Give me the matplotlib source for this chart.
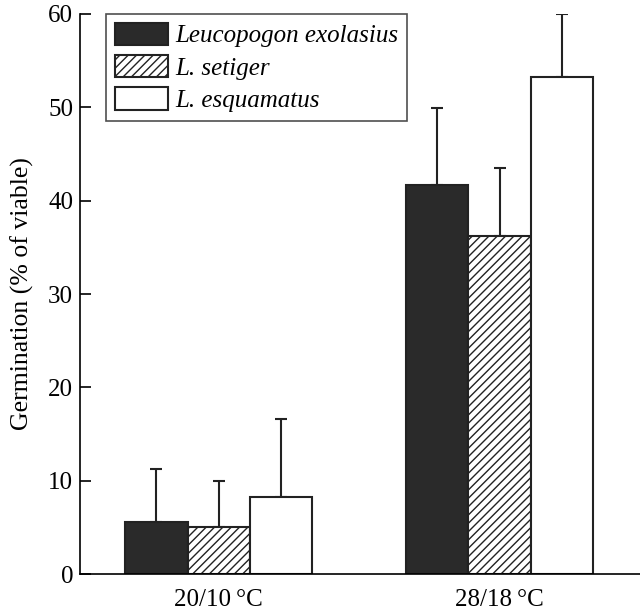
import matplotlib.pyplot as plt
import numpy as np

plt.rcParams['font.family'] = ['Liberation Serif', 'DejaVu Serif']
plt.rcParams['hatch.linewidth'] = 1.0

groups = ['20/10\u2009\u00b0C', '28/18\u2009\u00b0C']
species = ['Leucopogon exolasius', 'L. setiger', 'L. esquamatus']
means = [
    [5.6, 41.7],
    [5.0, 36.2],
    [8.3, 53.3],
]
errors = [
    [5.6, 8.2],
    [5.0, 7.3],
    [8.3, 6.7],
]

colors = ['#2a2a2a', 'white', 'white']
hatches = [None, '////', None]

fig = plt.figure(figsize=(6.4, 6.14), dpi=100)
ax = fig.add_axes([0.125, 0.0651, 0.875, 0.9121])

x = np.arange(len(groups))
w = 0.222
for i in range(3):
    ax.bar(x + (i - 1) * w, means[i], w, color=colors[i], edgecolor='#222222',
           linewidth=1.5, hatch=hatches[i], label=species[i], zorder=2)
    ax.errorbar(x + (i - 1) * w, means[i], yerr=[np.zeros(2), errors[i]],
                fmt='none', ecolor='#222222', elinewidth=1.5, capsize=4,
                capthick=1.5, zorder=1)

ax.set_xlim(-0.494, 1.5)
ax.set_ylim(0, 60)
ax.set_yticks(range(0, 61, 10))
ax.set_xticks(x)
ax.set_xticklabels(groups)
ax.tick_params(axis='y', direction='in', length=8, width=1.2, labelsize=18, pad=5)
ax.tick_params(axis='x', length=0, labelsize=18, pad=11)
ax.spines['top'].set_visible(False)
ax.spines['right'].set_visible(False)
for s in ['left', 'bottom']:
    ax.spines[s].set_linewidth(1.2)
ax.set_ylabel('Germination (% of viable)', fontsize=18.5, labelpad=10)

leg = ax.legend(loc='upper left', bbox_to_anchor=(0.047, 1.0), prop={'style': 'italic', 'size': 18},
                frameon=True, fancybox=False, edgecolor='#222222', handlelength=2.1,
                handleheight=1.0, handletextpad=0.3, labelspacing=0.3, borderpad=0.35,
                borderaxespad=0)
leg.get_frame().set_linewidth(1.2)

fig.savefig('out.png', dpi=100)
